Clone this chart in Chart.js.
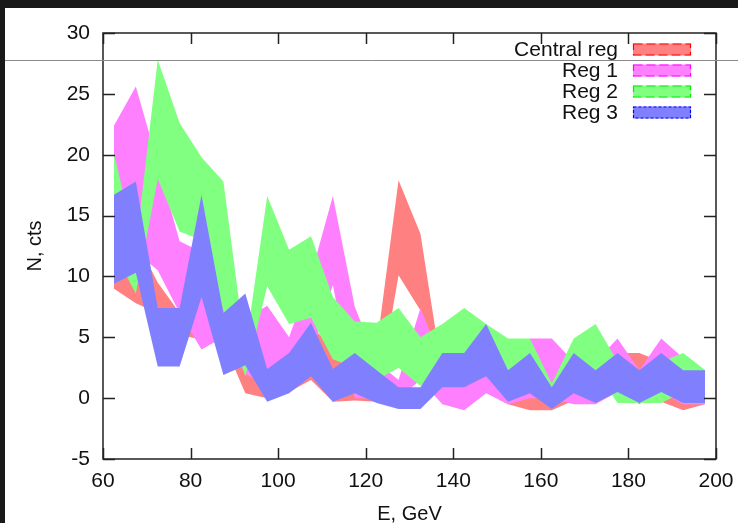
<!DOCTYPE html>
<html><head><meta charset="utf-8">
<script src="https://cdn.jsdelivr.net/npm/chart.js@4.4.1/dist/chart.umd.min.js"></script>
<style>
html,body{margin:0;padding:0;background:#191919;width:738px;height:523px;overflow:hidden;}
#wrap{position:absolute;left:5px;top:8px;width:733px;height:515px;background:#fff;}
canvas{display:block;}
</style></head><body>
<div id="wrap"><canvas id="c" width="733" height="515"></canvas></div>
<script>
const energies = [62.5,67.5,72.5,77.5,82.5,87.5,92.5,97.5,102.5,107.5,112.5,117.5,122.5,127.5,132.5,137.5,142.5,147.5,152.5,157.5,162.5,167.5,172.5,177.5,182.5,187.5,192.5,197.5];

const centralLow  = [9.0,7.8,7.0,5.2,4.8,4.6,0.4,0.0,0.5,1.5,-0.3,-0.2,-0.3,10.1,7.2,-0.3,-0.5,0.5,-0.5,-1.0,-1.0,-0.2,-0.2,0.5,0.5,-0.3,-1.0,-0.5];
const centralHigh = [15.0,13.0,9.5,7.0,10.0,9.0,5.0,4.0,4.0,6.0,4.0,3.0,4.2,17.9,13.5,2.0,3.0,4.0,3.0,2.0,2.0,2.5,3.0,3.7,3.7,3.0,2.0,2.0];

const reg1Low  = [11.0,12.0,10.5,7.0,4.0,5.0,2.0,1.0,1.5,3.5,9.3,0.0,0.0,0.0,1.5,-0.5,-1.0,0.4,-0.5,0.0,0.0,-0.5,-0.5,0.5,-0.5,0.5,-0.5,-0.5];
const reg1High = [22.4,25.6,19.3,12.9,12.0,10.8,6.5,7.6,5.0,10.1,16.6,7.5,3.0,1.5,7.4,3.0,2.5,4.5,2.5,4.9,4.9,3.0,3.0,4.9,2.3,4.9,3.3,2.0];

const reg2Low  = [12.0,8.6,18.0,13.7,13.0,7.2,1.8,9.2,6.1,6.6,3.2,2.5,1.5,2.5,1.0,2.6,3.2,2.0,1.5,1.5,-0.9,1.5,2.3,-0.4,-0.4,-0.4,0.5,-0.4];
const reg2High = [20.1,12.4,27.8,22.6,19.8,17.8,4.0,16.6,12.2,13.3,8.3,6.3,6.2,7.4,5.0,6.1,7.4,6.1,4.9,4.9,1.2,4.9,6.1,3.0,2.0,3.0,3.7,2.3];

const reg3Low  = [9.4,10.3,2.6,2.6,8.3,1.9,2.7,-0.3,0.4,1.8,-0.3,0.4,-0.4,-0.9,-0.9,0.9,0.9,1.8,-0.3,0.4,-0.9,0.4,-0.4,0.5,-0.4,0.5,-0.4,-0.4];
const reg3High = [16.7,17.8,7.4,7.4,16.7,7.0,8.6,2.4,3.7,6.2,2.4,3.7,2.3,0.9,0.9,3.7,3.7,6.1,2.3,3.7,0.9,3.7,2.3,3.7,2.3,3.7,2.3,2.3];

const xTicks = [60,80,100,120,140,160,180,200];
const yTicks = [-5,0,5,10,15,20,25,30];
const seriesNames = ['Central reg','Reg 1','Reg 2','Reg 3'];
const fillColors = ['rgb(255,128,128)','rgb(255,128,255)','rgb(128,255,128)','rgb(128,128,255)'];
const edgeColors = ['#ff0000','#ff00ff','#00ee00','#0000ff'];
const edgeDash = [[9,4],[9,4],[9,4],[3,2]];

const lows = [centralLow, reg1Low, reg2Low, reg3Low];
const highs = [centralHigh, reg1High, reg2High, reg3High];

const FONT = '"Liberation Sans", Arial, sans-serif';

const datasets = [];
seriesNames.forEach((name, s) => {
  const ord = 4 - s;
  datasets.push({
    label: name + ' low',
    data: energies.map((e, i) => ({x: e, y: lows[s][i]})),
    borderWidth: 0, pointRadius: 0, fill: false, order: ord, tension: 0,
    borderColor: 'rgba(0,0,0,0)'
  });
  datasets.push({
    label: name,
    data: energies.map((e, i) => ({x: e, y: highs[s][i]})),
    borderWidth: 0, pointRadius: 0, fill: '-1', order: ord, tension: 0,
    borderColor: 'rgba(0,0,0,0)', backgroundColor: fillColors[s]
  });
});

const framePlugin = {
  id: 'frame',
  afterDraw(chart) {
    const {ctx, chartArea: a, scales: {x, y}} = chart;
    ctx.save();
    ctx.strokeStyle = '#222';
    ctx.lineWidth = 1.5;
    ctx.beginPath();
    xTicks.forEach(v => {
      const px = Math.round(x.getPixelForValue(v)) + 0.5;
      ctx.moveTo(px, a.bottom); ctx.lineTo(px, a.bottom - 11);
      ctx.moveTo(px, a.top); ctx.lineTo(px, a.top + 11);
    });
    yTicks.forEach(v => {
      const py = Math.round(y.getPixelForValue(v)) + 0.5;
      ctx.moveTo(a.left, py); ctx.lineTo(a.left + 12, py);
      ctx.moveTo(a.right, py); ctx.lineTo(a.right - 12, py);
    });
    ctx.stroke();
    ctx.strokeRect(a.left, a.top, a.right - a.left, a.bottom - a.top);

    // legend
    ctx.font = '21px ' + FONT;
    ctx.textAlign = 'right';
    ctx.textBaseline = 'middle';
    seriesNames.forEach((name, s) => {
      const cy = 41.5 + 21 * s;
      ctx.fillStyle = '#111';
      ctx.fillText(name, 613, cy + 1);
      ctx.fillStyle = fillColors[s];
      ctx.fillRect(628, cy - 6, 58, 12);
      ctx.strokeStyle = edgeColors[s];
      ctx.lineWidth = 1.2;
      ctx.setLineDash(edgeDash[s]);
      ctx.strokeRect(628.5, cy - 5.5, 57, 11);
      ctx.setLineDash([]);
    });

    // thin grey overlay line
    ctx.strokeStyle = '#8a8a8a';
    ctx.lineWidth = 1;
    ctx.beginPath();
    ctx.moveTo(0, 52.5); ctx.lineTo(733, 52.5);
    ctx.stroke();
    ctx.restore();
  }
};

new Chart(document.getElementById('c'), {
  type: 'line',
  data: {datasets},
  options: {
    responsive: false,
    animation: false,
    layout: {autoPadding: false, padding: {top: 25, right: 22, left: 0, bottom: 0}},
    plugins: {legend: {display: false}, tooltip: {enabled: false}, filler: {propagate: false}},
    elements: {line: {borderWidth: 0}},
    scales: {
      x: {
        type: 'linear', min: 60, max: 200,
        afterBuildTicks(s) { s.ticks = xTicks.map(v => ({value: v})); },
        afterFit(s) { s.height = 64; s.paddingLeft = 0; s.paddingRight = 0; },
        grid: {display: false, drawTicks: false},
        border: {display: false},
        ticks: {color: '#111', font: {family: FONT, size: 21}, padding: 10, maxRotation: 0, autoSkip: false},
        title: {display: true, text: 'E, GeV', color: '#111', font: {family: FONT, size: 20, lineHeight: 0.9}, padding: {top: 0, bottom: 0}}
      },
      y: {
        type: 'linear', min: -5, max: 30,
        afterBuildTicks(s) { s.ticks = yTicks.map(v => ({value: v})); },
        afterFit(s) { s.width = 98; s.paddingTop = 0; s.paddingBottom = 0; },
        grid: {display: false, drawTicks: false},
        border: {display: false},
        ticks: {color: '#111', font: {family: FONT, size: 21}, padding: 13, autoSkip: false},
        title: {display: true, text: 'N, cts', color: '#111', font: {family: FONT, size: 20, lineHeight: 1.2}, padding: {top: 18, bottom: 0}}
      }
    }
  },
  plugins: [framePlugin]
});
</script>
</body></html>
